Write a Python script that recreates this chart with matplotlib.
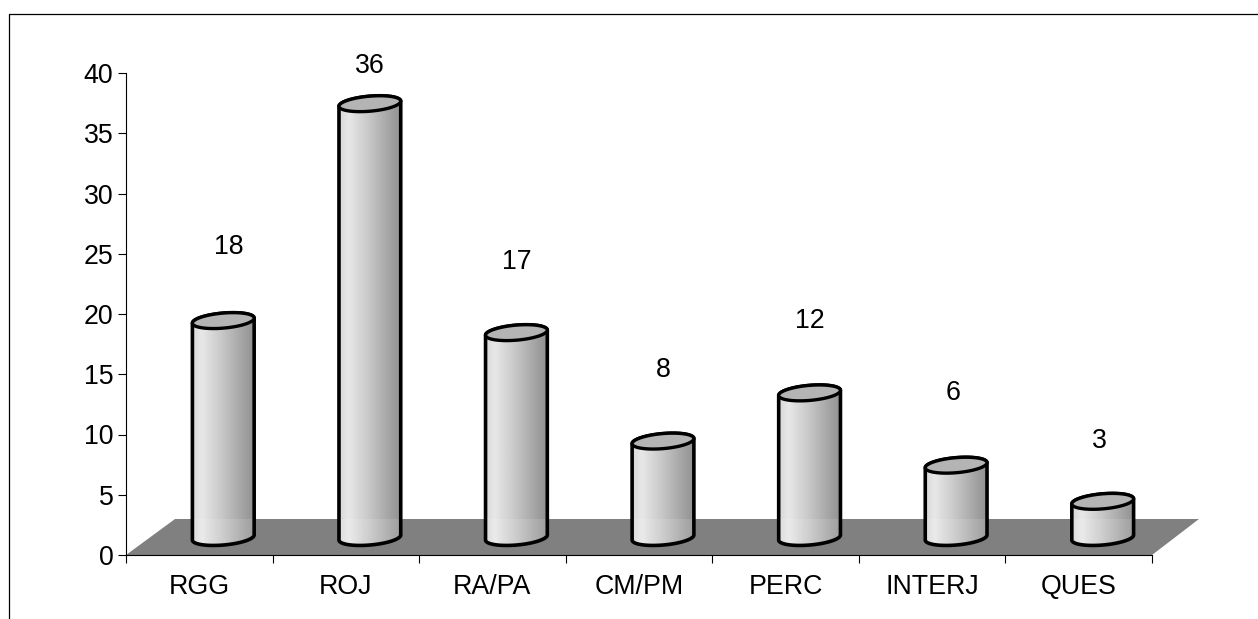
import matplotlib
matplotlib.use("Agg")
import matplotlib.pyplot as plt
import numpy as np
from matplotlib.lines import Line2D
from matplotlib.patches import Polygon, Rectangle
from matplotlib.colors import LinearSegmentedColormap

categories = ["RGG", "ROJ", "RA/PA", "CM/PM", "PERC", "INTERJ", "QUES"]
values = [18, 36, 17, 8, 12, 6, 3]
y_ticks = [0, 5, 10, 15, 20, 25, 30, 35, 40]

W, H = 1258, 619
plt.rcParams["font.family"] = ["Liberation Sans", "DejaVu Sans"]

fig = plt.figure(figsize=(W / 100, H / 100), dpi=100, facecolor="white")
ax = fig.add_axes([126 / W, (H - 555) / H, 1026 / W, 482 / H])
ax.set_xlim(0, 7)
ax.set_ylim(0, 40)

# Outer frame, only top and left are visible in the original
fig.add_artist(Line2D([9 / W, 9 / W, 1], [0, 1 - 14 / H, 1 - 14 / H], color="black", lw=0.9))

px_x = 7 / 1026   # data units per pixel
px_y = 40 / 482

# Floor of the 3D chart
floor_h = 36 * px_y
floor = Polygon([(0, 0), (7, 0), (7 + 47 * px_x, floor_h), (49 * px_x, floor_h)],
                closed=True, facecolor="#808080", edgecolor="none", clip_on=False, zorder=1)
ax.add_patch(floor)

# Cylinder shading
shade = LinearSegmentedColormap.from_list(
    "cyl", [(0, "#d8d8d8"), (0.15, "#e8e8e8"), (0.5, "#c6c6c6"), (0.8, "#a6a6a6"), (1, "#929292")])
grad = np.linspace(0, 1, 64).reshape(1, -1)

a, b = 31, 7.5
tilt = np.radians(5)
t = np.linspace(0, 2 * np.pi, 121)
ex = (a * np.cos(t) * np.cos(tilt) - b * np.sin(t) * np.sin(tilt)) * px_x
ey = (a * np.cos(t) * np.sin(tilt) + b * np.sin(t) * np.cos(tilt)) * px_y
base_dx = 24 * px_x
base_dy = 17.5 * px_y

# label placement differs a little from bar to bar in the original (pixels)
label_nudge_x = [6, 0, 0, 0, 0, -3, -3]
label_nudge_y = [1, 0, -2, -1, 0, 0, -12]

for i, v in enumerate(values):
    cx = i + 0.5 + base_dx
    y0 = base_dy
    y1 = v + base_dy

    # body: lower half of bottom ellipse, then upper half of top ellipse
    body_x = np.r_[(cx + ex)[60:121], (cx + ex)[:61]]
    body_y = np.r_[(y0 + ey)[60:121], (y1 + ey)[:61]]
    body = Polygon(np.column_stack([body_x, body_y]), closed=True, facecolor="none",
                   edgecolor="black", lw=2.6, clip_on=False, zorder=6 + 3 * i)
    ax.add_patch(body)

    im = ax.imshow(grad, cmap=shade, aspect="auto", vmin=0, vmax=1,
                   extent=(cx - a * px_x, cx + a * px_x, y0 - 10 * px_y, y1 + 10 * px_y),
                   zorder=4 + 3 * i, interpolation="bilinear")
    im.set_clip_path(body)

    # lower part of the cylinder looks a bit washed out over the floor
    wash = Rectangle((cx - a * px_x, y0 - 10 * px_y), 2 * a * px_x, floor_h - y0 + 10 * px_y,
                     facecolor="white", alpha=0.12, edgecolor="none", zorder=5 + 3 * i)
    ax.add_patch(wash)
    wash.set_clip_path(body)

    top = Polygon(np.column_stack([cx + ex, y1 + ey]), closed=True, facecolor="#b4b4b4",
                  edgecolor="black", lw=2.4, clip_on=False, zorder=7 + 3 * i)
    ax.add_patch(top)

    # value label sits about 6 units over the bar, capped below the plot top
    ax.text(cx + label_nudge_x[i] * px_x, min(y1 + 6, 40.55) + label_nudge_y[i] * px_y, str(v),
            ha="center", va="center", fontsize=19.3, zorder=50)

ax.set_xlim(0, 7)
ax.set_ylim(0, 40)

for side in ("top", "right"):
    ax.spines[side].set_visible(False)
for side in ("left", "bottom"):
    ax.spines[side].set_linewidth(0.8)
    ax.spines[side].set_zorder(2)

ax.set_yticks(y_ticks)
ax.set_xticks(range(8))
ax.set_xticklabels([])
ax.set_xticks(np.arange(7) + 0.5, minor=True)
ax.set_xticklabels(categories, minor=True)
ax.tick_params(axis="both", which="major", length=6, width=0.8, labelsize=19.3, pad=3)
ax.tick_params(axis="x", which="minor", length=0, labelsize=19.3, pad=14)

fig.savefig("out.png", dpi=100)
